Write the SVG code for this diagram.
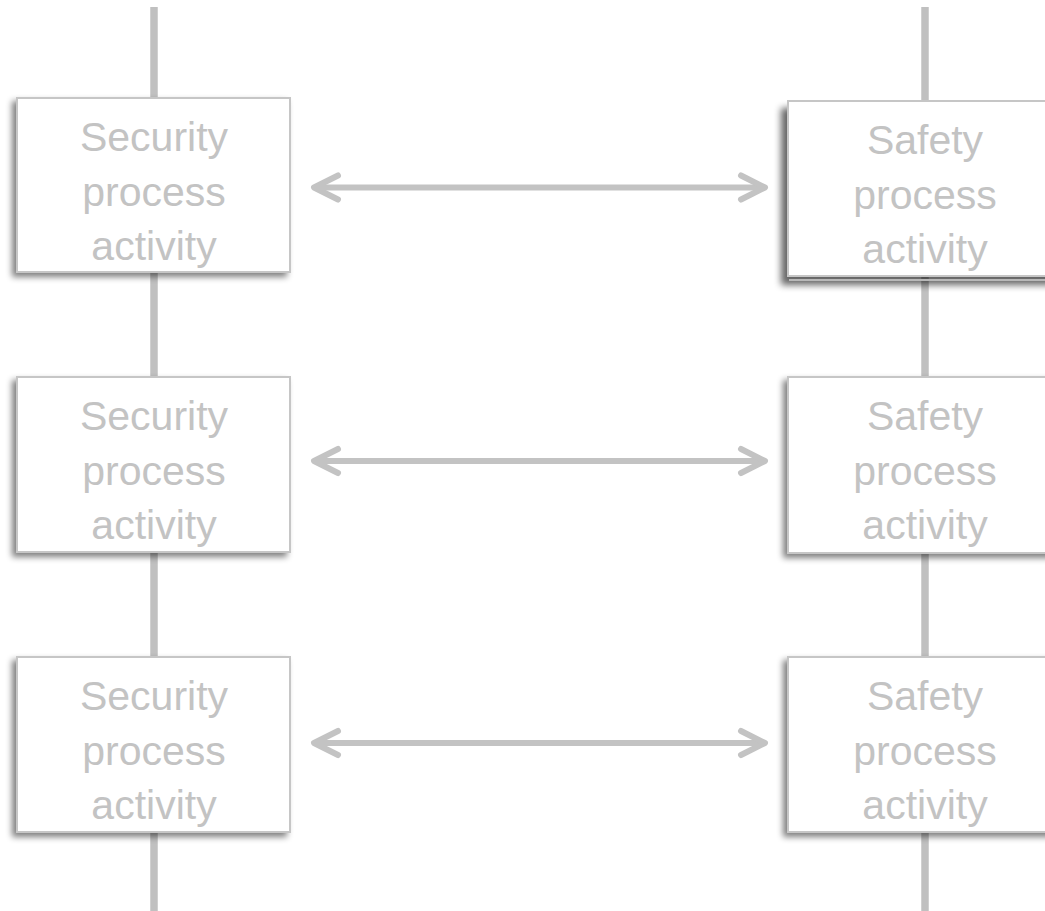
<svg xmlns="http://www.w3.org/2000/svg" width="1045" height="911" viewBox="0 0 1045 911">
  <defs>
    <filter id="sh" x="-10%" y="-10%" width="120%" height="125%">
      <feGaussianBlur in="SourceAlpha" stdDeviation="3"/>
      <feOffset dx="-4" dy="4" result="b"/>
      <feComponentTransfer><feFuncA type="linear" slope="0.5"/></feComponentTransfer>
      <feMerge><feMergeNode/><feMergeNode in="SourceGraphic"/></feMerge>
    </filter>
    <filter id="sh2" x="-10%" y="-10%" width="120%" height="125%">
      <feGaussianBlur in="SourceAlpha" stdDeviation="3.5"/>
      <feOffset dx="-6" dy="8" result="b"/>
      <feComponentTransfer><feFuncA type="linear" slope="0.6"/></feComponentTransfer>
      <feMerge><feMergeNode/><feMergeNode in="SourceGraphic"/></feMerge>
    </filter>
  </defs>
  <style>
    .lane { stroke: #c0c0c0; stroke-width: 7.5; fill: none; }
    .box { fill: #ffffff; stroke: #c6c6c6; stroke-width: 2; }
    .lbl { font-family: "Liberation Sans", Arial, sans-serif; font-size: 41px; fill: #c3c3c3; text-anchor: middle; }
    .arr { stroke: #c3c3c3; stroke-width: 6; fill: none; stroke-linecap: round; stroke-linejoin: round; }
  </style>
  <rect width="1045" height="911" fill="#ffffff"/>
  <g id="connectors">
    <line class="lane" x1="154" y1="7" x2="154" y2="911"/>
    <line class="lane" x1="925" y1="7" x2="925" y2="911"/>
    <g id="arrow1">
      <line class="arr" x1="316" y1="187.5" x2="763" y2="187.5"/>
      <polyline class="arr" points="338,175.5 314,187.5 338,199.5"/>
      <polyline class="arr" points="741,175.5 765,187.5 741,199.5"/>
    </g>
    <g id="arrow2">
      <line class="arr" x1="316" y1="461" x2="763" y2="461"/>
      <polyline class="arr" points="338,449 314,461 338,473"/>
      <polyline class="arr" points="741,449 765,461 741,473"/>
    </g>
    <g id="arrow3">
      <line class="arr" x1="316" y1="743" x2="763" y2="743"/>
      <polyline class="arr" points="338,731 314,743 338,755"/>
      <polyline class="arr" points="741,731 765,743 741,755"/>
    </g>
  </g>
  <g id="sec1">
    <rect class="box" x="17" y="98" width="273" height="174" filter="url(#sh)"/>
    <text class="lbl" x="154"><tspan x="154" y="151">Security</tspan><tspan x="154" y="206">process</tspan><tspan x="154" y="260">activity</tspan></text>
  </g>
  <g id="sec2">
    <rect class="box" x="17" y="377" width="273" height="175" filter="url(#sh)"/>
    <text class="lbl" x="154"><tspan x="154" y="430">Security</tspan><tspan x="154" y="485">process</tspan><tspan x="154" y="539">activity</tspan></text>
  </g>
  <g id="sec3">
    <rect class="box" x="17" y="657" width="273" height="175" filter="url(#sh)"/>
    <text class="lbl" x="154"><tspan x="154" y="710">Security</tspan><tspan x="154" y="765">process</tspan><tspan x="154" y="819">activity</tspan></text>
  </g>
  <g id="saf1">
    <rect class="box" x="788" y="101" width="270" height="175" filter="url(#sh2)"/>
    <line x1="789" y1="280" x2="1045" y2="280" stroke="#b8b8b8" stroke-width="2"/>
    <text class="lbl" x="925"><tspan x="925" y="154">Safety</tspan><tspan x="925" y="209">process</tspan><tspan x="925" y="263">activity</tspan></text>
  </g>
  <g id="saf2">
    <rect class="box" x="788" y="377" width="270" height="176" filter="url(#sh)"/>
    <text class="lbl" x="925"><tspan x="925" y="430">Safety</tspan><tspan x="925" y="485">process</tspan><tspan x="925" y="539">activity</tspan></text>
  </g>
  <g id="saf3">
    <rect class="box" x="788" y="657" width="270" height="175" filter="url(#sh)"/>
    <text class="lbl" x="925"><tspan x="925" y="710">Safety</tspan><tspan x="925" y="765">process</tspan><tspan x="925" y="819">activity</tspan></text>
  </g>
</svg>
